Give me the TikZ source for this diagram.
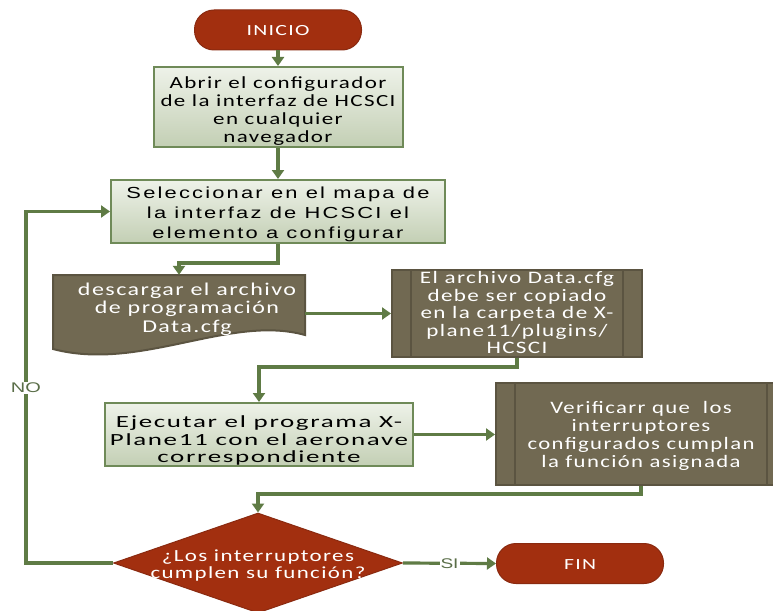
\documentclass[tikz,border=0pt]{standalone}
\usepackage{fontspec}
\setmainfont{Carlito}
\newfontfamily\calls[LetterSpace=6]{Carlito}
\newfontfamily\arials[LetterSpace=10]{Liberation Sans}
\newfontfamily\arialf{Liberation Sans}
\usetikzlibrary{arrows.meta,shapes.geometric,calc}
\definecolor{lnG}{HTML}{5F7B45}
\definecolor{redF}{HTML}{A22F0F}
\definecolor{redD}{HTML}{8A2A10}
\definecolor{brF}{HTML}{716952}
\definecolor{brD}{HTML}{5B5441}
\definecolor{gT}{HTML}{EEF2E9}
\definecolor{gB}{HTML}{C3CFB4}
\definecolor{gD}{HTML}{6F8A58}
\definecolor{txG}{HTML}{5A6E48}
\newcommand\fitw[2]{\resizebox{#1}{\height}{\begin{tabular}{@{}c@{}}#2\end{tabular}}}
\begin{document}
\begin{tikzpicture}[x=1pt,y=-1pt,
 conn/.style={draw=lnG, line width=3.2pt},
 arr/.style={conn, -{Triangle[length=9pt,width=12pt]}},
 term/.style={draw=redD, line width=1pt, fill=redF, rounded corners=19.5pt, inner sep=0pt},
 gbox/.style={draw=gD, line width=2pt, top color=gT, bottom color=gB, inner sep=0pt},
 bbox/.style={draw=brD, line width=2pt, fill=brF, inner sep=0pt},
 wtxt/.style={text=white, inner sep=0pt},
 ktxt/.style={text=black, inner sep=0pt},
 lab/.style={text=txG, fill=white, inner sep=1pt, font=\arialf\fontsize{14}{16}\selectfont},
]
\useasboundingbox (0,0) rectangle (773,610);
\fill[white] (0,0) rectangle (773,610);
\clip (0,0) rectangle (773,610);

% shapes
\node[term, minimum width=167pt, minimum height=40pt] (ini) at (278,30) {};
\node[wtxt, font=\calls\fontsize{15.5}{17}\selectfont] (init) at (278,32.5) {\fitw{63pt}{INICIO}};

\node[gbox, minimum width=249pt, minimum height=80pt] (b1) at (278,107) {};
\node[ktxt, font=\calls\fontsize{17}{18}\selectfont] (b1t) at (278,112) {\fitw{235pt}{Abrir el configurador\\de la interfaz de HCSCI\\en cualquier\\navegador}};

\node[gbox, minimum width=334pt, minimum height=63pt] (b2) at (278,211.5) {};
\node[ktxt, font=\arials\fontsize{16}{20}\selectfont] (b2t) at (278,214) {\fitw{303pt}{Seleccionar en el mapa de\\la interfaz de HCSCI el\\elemento a configurar}};

% document shape
\node[inner sep=0, minimum width=252pt, minimum height=74pt] (doc) at (179,312) {};
\draw[bbox] (53,275) -- (305,275) -- (305,335)
  .. controls (230,314) and (140,372) .. (53,349) -- cycle;
\node[wtxt, font=\calls\fontsize{18}{18.5}\selectfont] (doct) at (187,310) {\fitw{218pt}{descargar el archivo\\de programación\\Data.cfg}};

% predefined process 1
\node[bbox, minimum width=250pt, minimum height=87pt] (pp) at (517,313.5) {};
\draw[brD, line width=2pt] ($(pp.north west)+(20,0)$) -- ($(pp.south west)+(20,0)$);
\draw[brD, line width=2pt] ($(pp.north east)+(-20,0)$) -- ($(pp.south east)+(-20,0)$);
\node[wtxt, font=\calls\fontsize{17.5}{17.5}\selectfont] (ppt) at (517,315) {\fitw{194pt}{El archivo Data.cfg\\debe ser copiado\\en la carpeta de X-\\plane11/plugins/\\HCSCI}};

\node[gbox, minimum width=308pt, minimum height=63pt] (ej) at (259,434.5) {};
\node[ktxt, font=\calls\fontsize{17}{17.5}\selectfont] (ejt) at (259,441.5) {\fitw{298pt}{Ejecutar el programa X-\\Plane11 con el aeronave\\correspondiente}};

% predefined process 2
\node[bbox, minimum width=290pt, minimum height=102pt] (ver) at (641,434) {};
\draw[brD, line width=2pt] ($(ver.north west)+(20,0)$) -- ($(ver.south west)+(20,0)$);
\draw[brD, line width=2pt] ($(ver.north east)+(-20,0)$) -- ($(ver.south east)+(-20,0)$);
\node[wtxt, font=\calls\fontsize{17.5}{17.8}\selectfont] (vert) at (641,437) {\fitw{227pt}{Verificarr que\ \ los\\interruptores\\configurados cumplan\\la función asignada}};

\node[diamond, aspect=2.89, minimum width=289pt, minimum height=100pt, fill=redF, draw=redD, line width=1pt, inner sep=0pt] (dia) at (258,563) {};
\node[wtxt, font=\calls\fontsize{17}{17}\selectfont] (diat) at (258,567) {\fitw{215pt}{¿Los interruptores\\cumplen su función?}};

\node[term, minimum width=167pt, minimum height=40pt] (fin) at (580,563.5) {};
\node[wtxt, font=\calls\fontsize{15.5}{17}\selectfont] (fint) at (580,566) {\fitw{32pt}{FIN}};

% connectors
\draw[arr] (ini.south) -- (b1.north);
\draw[arr] (b1.south) -- (b2.north);
\draw[arr] (b2.south) -- ++(0,19) -| (doc.north);
\draw[arr] (pp.west -| doc.east) -- (pp.west);
\draw[arr] (pp.south) -- ++(0,9) -| (ej.north);
\draw[arr] (ej.east) -- (ej.east -| ver.west);
\draw[arr] (ver.south) -- ++(0,8) -| (dia.north);
\draw[arr] (dia.east) -- node[lab, pos=0.5] (si) {\resizebox{18pt}{\height}{SI}} (fin.west);
\coordinate (noc) at (26,563);
\draw[arr] (dia.west) -- (noc) |- (b2.west);
\node[lab] (no) at (26,388) {\resizebox{30pt}{\height}{NO}};
\end{tikzpicture}
\end{document}
